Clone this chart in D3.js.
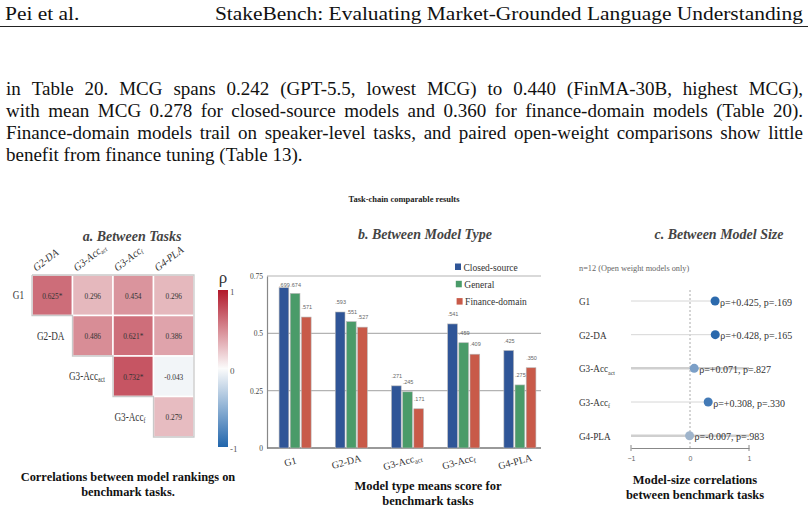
<!doctype html>
<html>
  <head>
    <script src="https://cdn.jsdelivr.net/npm/d3@7/dist/d3.min.js"></script>
    <style>
    body { margin: 0; background: #fff; }
    svg { display: block; }
    text { font-family: "Liberation Serif", "Times New Roman", serif; }
    </style>
  </head>
  <body>
    <svg id="page" width="808" height="512"></svg>
    <script>
      // ---- page text ----
      var headerLeft = "Pei et al.";
      var headerRight = "StakeBench: Evaluating Market-Grounded Language Understanding";
      var bodyLines = [
        "in Table 20.  MCG spans 0.242 (GPT-5.5, lowest MCG) to 0.440 (FinMA-30B, highest MCG),",
        "with mean MCG 0.278 for closed-source models and 0.360 for finance-domain models (Table 20).",
        "Finance-domain models trail on speaker-level tasks, and paired open-weight comparisons show little",
        "benefit from finance tuning (Table 13)."
      ];

      // ---- panel a: correlation between tasks ----
      var rowTasks = ["G1", "G2-DA", "G3-Acc|act", "G3-Acc|f"];
      var colTasks = ["G2-DA", "G3-Acc|act", "G3-Acc|f", "G4-PLA"];
      var corrValues = [
        [0.625, 0.296, 0.454, 0.296],
        [null, 0.486, 0.621, 0.386],
        [null, null, 0.732, -0.043],
        [null, null, null, 0.279]
      ];
      var corrSig = [
        [true, false, false, false],
        [null, false, true, false],
        [null, null, true, false],
        [null, null, null, false]
      ];

      // ---- panel b: model type means ----
      var taskNames = ["G1", "G2-DA", "G3-Acc|act", "G3-Acc|f", "G4-PLA"];
      var modelTypes = ["Closed-source", "General", "Finance-domain"];
      var closedScores = [0.699, 0.593, 0.271, 0.541, 0.425];
      var generalScores = [0.674, 0.551, 0.245, 0.459, 0.275];
      var financeScores = [0.571, 0.527, 0.171, 0.409, 0.350];
      var yTicks = [0, 0.25, 0.5, 0.75];

      // ---- panel c: model size correlations ----
      var sizeRho = [0.425, 0.428, 0.071, 0.308, -0.007];
      var sizeP = [0.169, 0.165, 0.827, 0.330, 0.983];

      var svg = d3.select("#page");
      svg.append("rect").attr("width", 808).attr("height", 512).attr("fill", "#fff");

      // text placed by transform, so it can be squeezed horizontally like the figure
      function stext(parent, x, y, sx, rot) {
        return parent.append("text")
          .attr("transform", `translate(${x},${y}) scale(${sx},1)` + (rot ? ` rotate(${rot})` : ""));
      }

      // task label with optional subscript ("G3-Acc|act")
      function taskLabel(sel, name, subSize) {
        var parts = name.split("|");
        sel.append("tspan").text(parts[0]);
        if (parts[1]) {
          sel.append("tspan")
            .attr("baseline-shift", "-25%")
            .style("font-size", subSize + "px")
            .text(parts[1]);
        }
      }

      // ---------- header + paragraph ----------
      stext(svg, 5, 19.5, 1.1)
        .style("font-size", "19.5px").attr("fill", "#111").text(headerLeft);
      stext(svg, 803, 19.5, 1.1).attr("text-anchor", "end")
        .style("font-size", "19.5px").attr("fill", "#111").text(headerRight);
      svg.append("line").attr("x1", 0).attr("x2", 808).attr("y1", 26.5).attr("y2", 26.5)
        .attr("stroke", "#222").attr("stroke-width", 1.2);

      function justify(str, x0, x1, y, stretch) {
        var words = str.split(/ +/);
        var g = svg.append("g");
        var nodes = words.map(w => g.append("text").attr("y", y)
          .style("font-size", "19px").attr("fill", "#111").text(w));
        var widths = nodes.map(n => n.node().getComputedTextLength());
        var total = d3.sum(widths);
        var gap = stretch ? (x1 - x0 - total) / (words.length - 1) : 4.8;
        var x = x0;
        nodes.forEach((n, i) => { n.attr("x", x); x += widths[i] + gap; });
      }
      bodyLines.forEach((l, i) => justify(l, 6, 803, 94.5 + i * 22.2, i < bodyLines.length - 1));

      svg.append("text").attr("x", 404).attr("y", 202).attr("text-anchor", "middle")
        .style("font-size", "8.5px").style("font-weight", "bold").attr("fill", "#222")
        .text("Task-chain comparable results");

      // ---------- panel a ----------
      var pa = svg.append("g");
      pa.append("text").attr("x", 132).attr("y", 240.5).attr("text-anchor", "middle")
        .style("font-size", "14px").style("font-weight", "bold").style("font-style", "italic")
        .attr("fill", "#444").text("a. Between Tasks");

      var hx = d3.scaleBand().domain(colTasks).range([32, 194]);
      var hy = d3.scaleBand().domain(rowTasks).range([275, 437]);
      var heatColor = d3.scaleLinear().domain([-1, 0, 1]).range(["#2166ac", "#fbfbfb", "#b2182b"]);

      var cells = [];
      rowTasks.forEach((r, i) => colTasks.forEach((c, j) => {
        if (corrValues[i][j] !== null) cells.push({ r: r, c: c, v: corrValues[i][j], s: corrSig[i][j] });
      }));

      pa.selectAll("rect.cell").data(cells).enter().append("rect")
        .attr("class", "cell")
        .attr("x", d => hx(d.c)).attr("y", d => hy(d.r))
        .attr("width", hx.bandwidth()).attr("height", hy.bandwidth())
        .attr("fill", d => heatColor(d.v))
        .attr("stroke", "#fff").attr("stroke-width", 1.5);

      // staircase outline
      var outline = d3.path();
      outline.moveTo(hx.range()[0], hy.range()[0]);
      outline.lineTo(hx.range()[1], hy.range()[0]);
      outline.lineTo(hx.range()[1], hy.range()[1]);
      rowTasks.slice().reverse().forEach((r, k) => {
        var i = rowTasks.length - 1 - k;
        var xl = hx(colTasks[i]);
        outline.lineTo(xl, hy(r) + hy.bandwidth());
        outline.lineTo(xl, hy(r));
      });
      pa.append("path").attr("d", outline.toString())
        .attr("fill", "none").attr("stroke", "#c9c9c9").attr("stroke-width", 1.3);

      cells.forEach(d => {
        stext(pa, hx(d.c) + hx.bandwidth() / 2, hy(d.r) + hy.bandwidth() / 2 + 3.3, 0.8)
          .attr("text-anchor", "middle").style("font-size", "9.2px").attr("fill", "#333")
          .text(d3.format(".3f")(d.v).replace("−", "-") + (d.s ? "*" : ""));
      });

      rowTasks.forEach((r, i) => {
        var t = stext(pa, hx(colTasks[i]) - 8, hy(r) + hy.bandwidth() / 2 + 4, 0.8)
          .attr("text-anchor", "end").style("font-size", "11.5px").attr("fill", "#333");
        taskLabel(t, r, 7.5);
      });
      colTasks.forEach(c => {
        var t = stext(pa, hx(c) + 4, 272, 0.8, -32)
          .style("font-size", "11.5px").attr("fill", "#333");
        taskLabel(t, c, 7);
      });

      // colour bar
      var cbY = d3.scaleLinear().domain([-1, 1]).range([447, 290]);
      var grad = svg.append("defs").append("linearGradient").attr("id", "cb")
        .attr("x1", 0).attr("y1", 1).attr("x2", 0).attr("y2", 0);
      d3.range(-1, 1.01, 0.25).forEach(v => grad.append("stop")
        .attr("offset", (v + 1) / 2).attr("stop-color", heatColor(v)));
      pa.append("rect").attr("x", 218).attr("y", cbY(1)).attr("width", 10)
        .attr("height", cbY(-1) - cbY(1)).attr("fill", "url(#cb)");
      pa.append("text").attr("x", 223).attr("y", 283).attr("text-anchor", "middle")
        .style("font-size", "17px").attr("fill", "#333").text("ρ");
      [1, 0, -1].forEach(v => pa.append("text").attr("x", 230).attr("y", cbY(v) + 5)
        .style("font-size", "9px").attr("fill", "#555").text(v));

      pa.append("text").attr("x", 128).attr("y", 481).attr("text-anchor", "middle")
        .style("font-size", "12.4px").style("font-weight", "bold").attr("fill", "#111")
        .text("Correlations between model rankings on");
      pa.append("text").attr("x", 128).attr("y", 496).attr("text-anchor", "middle")
        .style("font-size", "12.4px").style("font-weight", "bold").attr("fill", "#111")
        .text("benchmark tasks.");

      // ---------- panel b ----------
      var pb = svg.append("g");
      pb.append("text").attr("x", 425).attr("y", 238.5).attr("text-anchor", "middle")
        .style("font-size", "14px").style("font-weight", "bold").style("font-style", "italic")
        .attr("fill", "#444").text("b. Between Model Type");

      var seriesScores = [closedScores, generalScores, financeScores];
      var typeColor = d3.scaleOrdinal().domain(modelTypes).range(["#2f5597", "#4a9b69", "#c85a49"]);
      var bx = d3.scaleBand().domain(taskNames).range([267, 548]).paddingInner(0.43).paddingOuter(0.215);
      var bxInner = d3.scaleBand().domain(modelTypes).range([0, bx.bandwidth()]).paddingInner(0.13);
      var by = d3.scaleLinear().domain([0, 0.75]).range([448, 276]);

      pb.selectAll("line.grid").data(yTicks.filter(t => t > 0)).enter().append("line")
        .attr("class", "grid")
        .attr("x1", 267).attr("x2", 541).attr("y1", d => by(d)).attr("y2", d => by(d))
        .attr("stroke", "#b3b3b3").attr("stroke-width", 1.2);

      var yAxis = pb.append("g").attr("transform", "translate(267,0)")
        .call(d3.axisLeft(by).tickValues(yTicks).tickSize(0).tickPadding(4).tickFormat(d3.format("~g")));
      yAxis.select(".domain").attr("stroke", "#888").attr("stroke-width", 1.2);
      yAxis.selectAll("text").style("font-family", "Liberation Serif").style("font-size", "7.5px").attr("fill", "#444");

      pb.append("line").attr("x1", 267).attr("x2", 541).attr("y1", by(0)).attr("y2", by(0))
        .attr("stroke", "#777").attr("stroke-width", 1.3);

      var barData = [];
      taskNames.forEach((t, i) => modelTypes.forEach((m, k) =>
        barData.push({ task: t, type: m, v: seriesScores[k][i] })));

      pb.selectAll("rect.bar").data(barData).enter().append("rect")
        .attr("class", "bar")
        .attr("x", d => bx(d.task) + bxInner(d.type))
        .attr("y", d => by(d.v))
        .attr("width", bxInner.bandwidth())
        .attr("height", d => by(0) - by(d.v))
        .attr("fill", d => typeColor(d.type))
        .attr("stroke", "#b8b8b8").attr("stroke-width", 0.6);

      pb.selectAll("text.barval").data(barData).enter().append("text")
        .attr("class", "barval")
        .attr("x", d => bx(d.task) + bxInner(d.type) + bxInner.bandwidth() / 2 + 0.5)
        .attr("y", d => Math.max(by(d.v) - 8, 287))
        .attr("text-anchor", "middle")
        .style("font-family", "Liberation Sans, Arial, sans-serif").style("font-size", "5.5px")
        .attr("fill", "#666")
        .text(d => d3.format(".3f")(d.v).replace(/^0/, ""));

      taskNames.forEach(t => {
        var tx = pb.append("text")
          .attr("transform", `translate(${bx(t) + bx.bandwidth() / 2 - 4},465) rotate(-15)`)
          .attr("text-anchor", "middle").style("font-size", "10px").attr("fill", "#333");
        taskLabel(tx, t, 7);
      });

      var legend = pb.selectAll("g.leg").data(modelTypes).enter().append("g")
        .attr("class", "leg")
        .attr("transform", (d, i) => `translate(${455 + i * 0.8},${267 + i * 17.3})`);
      legend.append("rect").attr("x", 0).attr("y", -3.5).attr("width", 6).attr("height", 6.5)
        .attr("fill", d => typeColor(d));
      legend.each(function (d) {
        stext(d3.select(this), 8.5, 3.8, 0.88)
          .style("font-size", "10.8px").attr("fill", "#333").text(d);
      });

      pb.append("text").attr("x", 428).attr("y", 490).attr("text-anchor", "middle")
        .style("font-size", "12.5px").style("font-weight", "bold").attr("fill", "#111")
        .text("Model type means score for");
      pb.append("text").attr("x", 428).attr("y", 505).attr("text-anchor", "middle")
        .style("font-size", "12.5px").style("font-weight", "bold").attr("fill", "#111")
        .text("benchmark tasks");

      // ---------- panel c ----------
      var pc = svg.append("g");
      pc.append("text").attr("x", 719).attr("y", 238.5).attr("text-anchor", "middle")
        .style("font-size", "14px").style("font-weight", "bold").style("font-style", "italic")
        .attr("fill", "#444").text("c. Between Model Size");
      pc.append("text").attr("x", 579).attr("y", 271)
        .style("font-size", "8.3px").attr("fill", "#666").text("n=12 (Open weight models only)");

      var cx = d3.scaleLinear().domain([-1, 1]).range([631, 749]);
      var cy = d3.scalePoint().domain(taskNames).range([301, 435.7]);
      var dotColor = d3.scaleLinear().domain([0, 0.1, 0.43]).range(["#a3b6cb", "#6b96c5", "#2b69ad"]);

      pc.append("line").attr("x1", cx(0)).attr("x2", cx(0)).attr("y1", 290).attr("y2", 448)
        .attr("stroke", "#aaa").attr("stroke-width", 1).attr("stroke-dasharray", "2,2");

      var rows = taskNames.map((t, i) => ({ t: t, rho: sizeRho[i], p: sizeP[i] }));
      pc.selectAll("line.stem").data(rows).enter().append("line")
        .attr("class", "stem")
        .attr("x1", cx(-1)).attr("x2", d => d.p > 0.5 ? cx(1) : cx(d.rho))
        .attr("y1", d => cy(d.t)).attr("y2", d => cy(d.t))
        .attr("stroke", d => d.p > 0.5 ? "#cfcfcf" : "#d6d6d6")
        .attr("stroke-width", d => d.p > 0.5 ? 2.5 : 1);

      pc.selectAll("circle.dot").data(rows).enter().append("circle")
        .attr("class", "dot")
        .attr("cx", d => cx(d.rho)).attr("cy", d => cy(d.t)).attr("r", 4.5)
        .attr("fill", d => dotColor(Math.abs(d.rho)));

      pc.selectAll("text.rho").data(rows).enter().append("text")
        .attr("class", "rho")
        .attr("x", d => cx(d.rho) + 5).attr("y", d => cy(d.t) + 4.5)
        .style("font-size", "10px").attr("fill", "#333")
        .text(d => "ρ=" + d3.format("+.3f")(d.rho).replace("−", "-") + ",  p=" + d3.format(".3f")(d.p).replace(/^0/, ""));

      taskNames.forEach(t => {
        var tl = stext(pc, 579, cy(t) + 4, 0.85)
          .style("font-size", "10.8px").attr("fill", "#333");
        taskLabel(tl, t, 7);
      });

      var cAxis = pc.append("g").attr("transform", "translate(0,448)")
        .call(d3.axisBottom(cx).tickValues([-1, 0, 1]).tickSize(0).tickPadding(8).tickFormat(d3.format("d")));
      cAxis.select(".domain").attr("stroke", "#888").attr("stroke-width", 1.2);
      cAxis.selectAll("text").style("font-family", "Liberation Sans, Arial, sans-serif")
        .style("font-size", "7px").attr("fill", "#666");
      pc.selectAll("line.cap").data([-1, 1]).enter().append("line")
        .attr("class", "cap")
        .attr("x1", d => cx(d)).attr("x2", d => cx(d)).attr("y1", 445).attr("y2", 451)
        .attr("stroke", "#888").attr("stroke-width", 1);

      pc.append("text").attr("x", 695).attr("y", 484).attr("text-anchor", "middle")
        .style("font-size", "12.5px").style("font-weight", "bold").attr("fill", "#111")
        .text("Model-size correlations");
      pc.append("text").attr("x", 695).attr("y", 499).attr("text-anchor", "middle")
        .style("font-size", "12.5px").style("font-weight", "bold").attr("fill", "#111")
        .text("between benchmark tasks");
    </script>
  </body>
</html>
